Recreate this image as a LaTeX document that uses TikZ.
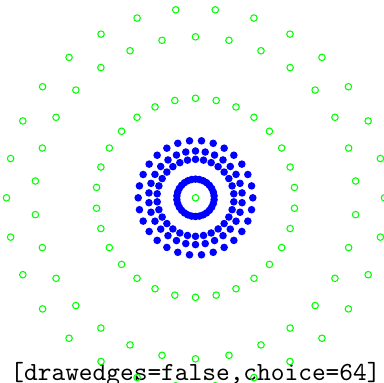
\documentclass[tikz,border=0pt]{standalone}
\usetikzlibrary{positioning}

\begin{document}
\begin{tikzpicture}[x=0.383pt, y=0.383pt,
  gvert/.style={circle, draw=green, line width=0.4pt, inner sep=0pt, minimum size=2.5pt},
  bvert/.style={circle, fill=blue, inner sep=0pt, minimum size=2.9pt}]
  \useasboundingbox (-195.5,-184.2) rectangle (188.5,197.8);

  % Caption
  \node[font=\ttfamily, anchor=base] (caption) at (0,-182.7)
    {[drawedges=false,choice=64]};

  % Centre vertex
  \node[gvert] (c) at (0,0) {};

  % Green rings
  \foreach \i in {0,...,29} {
    \node[gvert] (ga\i) at ({12*\i}:189) {};
    \node[gvert] (gb\i) at ({6+12*\i}:161) {};
    \node[gvert] (gc\i) at ({6+12*\i}:99.5) {};
  }

  % Blue rings
  \foreach \i in {0,...,29} {
    \node[bvert] (ba\i) at ({12*\i}:57.3) {};
    \node[bvert] (bb\i) at ({6+12*\i}:46.8) {};
    \node[bvert] (bc\i) at ({6+12*\i}:38.5) {};
    \node[bvert] (bd\i) at ({6+12*\i}:18.7) {};
  }
\end{tikzpicture}
\end{document}
